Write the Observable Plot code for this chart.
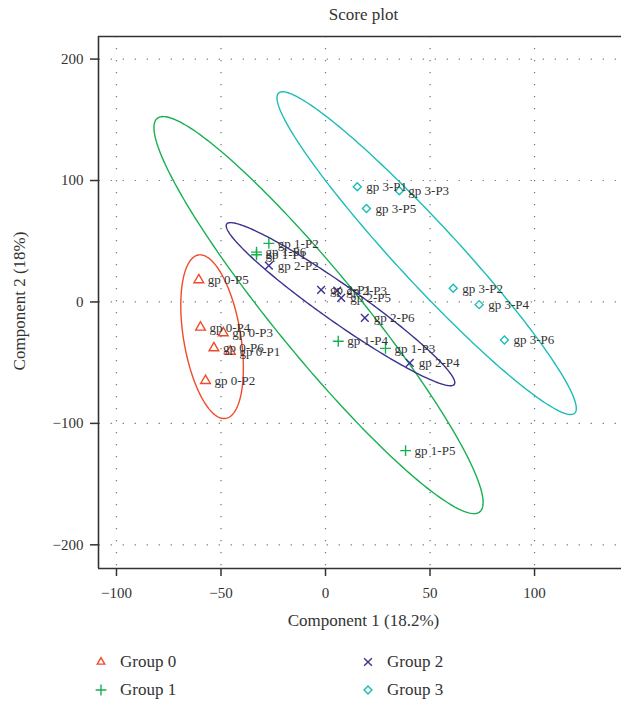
<!DOCTYPE html>
<html><head><meta charset="utf-8">
<script src="https://cdn.jsdelivr.net/npm/d3@7"></script>
<script src="https://cdn.jsdelivr.net/npm/@observablehq/plot@0.6"></script>
<style>
body{margin:0;background:#fff;font-family:"Liberation Serif",serif;color:#333}
#wrap{position:relative;width:621px;height:701px;overflow:hidden}
#chart{position:absolute;left:0;top:0}
.t{position:absolute;white-space:nowrap;color:#333}
#title{left:98px;width:531px;top:5px;text-align:center;font-size:17px}
#xlab{left:98px;width:531px;top:611px;text-align:center;font-size:17px}
#ylab{left:20px;top:301px;transform:translate(-50%,-50%) rotate(-90deg);font-size:17px}
.leg{position:absolute;font-size:17px;line-height:20px;display:flex;align-items:center}
.leg svg{margin-right:13px}
</style></head>
<body><div id="wrap">
<div id="chart"></div>
<div class="t" id="title">Score plot</div>
<div class="t" id="xlab">Component 1 (18.2%)</div>
<div class="t" id="ylab">Component 2 (18%)</div>
</div>
<script>
const groups = ["Group 0", "Group 1", "Group 2", "Group 3"];
const groupIds = [0, 1, 2, 3];
const colors = ["#f04b2b", "#17b04f", "#3a3390", "#1cbdb8"];
const symbols = ["triangle", "plus", "times", "diamond2"];
const sampleGroup = [0,0,0,0,0,0, 1,1,1,1,1,1, 2,2,2,2,2,2, 3,3,3,3,3,3];
const sampleName  = ["P5","P4","P3","P6","P1","P2", "P2","P6","P1","P4","P3","P5", "P2","P1","P3","P5","P6","P4", "P1","P3","P5","P2","P4","P6"];
const comp1 = [-60.6,-59.8,-48.9,-53.4,-45.5,-57.4, -27.1,-33.0,-33.0,6.1,28.7,38.3, -27.1,-2.1,5.6,7.5,18.8,40.3, 15.2,35.3,19.6,61.1,73.5,85.6];
const comp2 = [18.1,-20.9,-25.5,-37.9,-40.7,-64.8, 48.2,41.0,38.9,-32.4,-38.2,-122.4, 29.9,9.9,9.3,3.3,-13.2,-50.2, 94.9,91.6,77.0,11.2,-2.2,-31.3];
const xTicks = [-100, -50, 0, 50, 100];
const yTicks = [-200, -100, 0, 100, 200];
const xDomain = [-108.6, 141.6];
const yDomain = [-219.5, 218.6];

const pts = comp1.map((x, i) => ({x, y: comp2[i], group: groups[sampleGroup[i]], label: `gp ${sampleGroup[i]}-${sampleName[i]}`}));

// 95% confidence ellipses computed from each group's scores
const k = Math.sqrt(5.991);
const ell = [];
for (const g of groupIds) {
  const p = pts.filter(d => d.group === groups[g]);
  const n = p.length;
  const mx = d3.mean(p, d => d.x), my = d3.mean(p, d => d.y);
  let sxx = 0, syy = 0, sxy = 0;
  for (const d of p) { sxx += (d.x-mx)**2; syy += (d.y-my)**2; sxy += (d.x-mx)*(d.y-my); }
  sxx /= n-1; syy /= n-1; sxy /= n-1;
  const tr = sxx + syy, det = sxx*syy - sxy*sxy;
  const l1 = tr/2 + Math.sqrt(tr*tr/4 - det), l2 = tr/2 - Math.sqrt(tr*tr/4 - det);
  const th = Math.atan2(l1 - sxx, sxy);
  const a = k*Math.sqrt(l1), b = k*Math.sqrt(l2);
  for (let i = 0; i <= 240; i++) {
    const t = 2*Math.PI*i/240;
    const u = a*Math.cos(t), v = b*Math.sin(t);
    ell.push({group: groups[g], x: mx + u*Math.cos(th) - v*Math.sin(th), y: my + u*Math.sin(th) + v*Math.cos(th)});
  }
}

const chart = Plot.plot({
  width: 621, height: 640,
  marginTop: 36, marginLeft: 98, marginRight: 0, marginBottom: 72,
  style: {fontFamily: "Liberation Serif", fontSize: "15px", color: "#333", background: "transparent", overflow: "visible"},
  x: {domain: xDomain, ticks: xTicks, tickSize: 8, tickPadding: 11, label: null},
  y: {domain: yDomain, ticks: yTicks, tickSize: 8, tickPadding: 7, label: null},
  color: {domain: groups, range: colors},
  symbol: {domain: groups, range: symbols},
  marks: [
    Plot.gridX(xTicks, {stroke: "#666", strokeOpacity: 0.9, strokeWidth: 1.2, strokeDasharray: "1.2,10.8"}),
    Plot.gridY(yTicks, {stroke: "#666", strokeOpacity: 0.9, strokeWidth: 1.2, strokeDasharray: "1.2,10.8", strokeDashoffset: -0.7}),
    Plot.line(ell, {x: "x", y: "y", z: "group", stroke: "group", strokeWidth: 1.4}),
    Plot.dot(pts, {x: "x", y: "y", symbol: "group", stroke: "group", fill: "none", r: 3.6, strokeWidth: 1.4}),
    Plot.text(pts, {x: "x", y: "y", text: "label", dx: 9, textAnchor: "start", fontSize: 13, fill: "#333"}),
    Plot.ruleX([xDomain[0]], {y1: yDomain[0], y2: yDomain[1], stroke: "#333", strokeWidth: 1.6}),
    Plot.ruleY(yDomain, {stroke: "#333", strokeWidth: 1.6}),
    Plot.axisX(xTicks, {stroke: "#333", strokeWidth: 1.5, tickSize: 8, tickPadding: 11, fill: "#333"}),
    Plot.axisY(yTicks, {stroke: "#333", strokeWidth: 1.5, tickSize: 8, tickPadding: 7, fill: "#333"})
  ]
});
document.getElementById("chart").appendChild(chart);

// legend
const symFns = {triangle: d3.symbolTriangle2, plus: d3.symbolPlus, times: d3.symbolTimes, diamond2: d3.symbolDiamond2};
const legPos = [[95, 652], [95, 680], [362, 652], [362, 680]];
groups.forEach((g, i) => {
  const div = document.createElement("div");
  div.className = "leg";
  div.style.left = legPos[i][0] + "px";
  div.style.top = legPos[i][1] + "px";
  const path = d3.symbol(symFns[symbols[i]], 40)();
  div.innerHTML = `<svg width="12" height="12" viewBox="-6 -6 12 12"><path d="${path}" fill="none" stroke="${colors[i]}" stroke-width="1.4"/></svg><span>${g}</span>`;
  document.getElementById("wrap").appendChild(div);
});
</script>
</body></html>
